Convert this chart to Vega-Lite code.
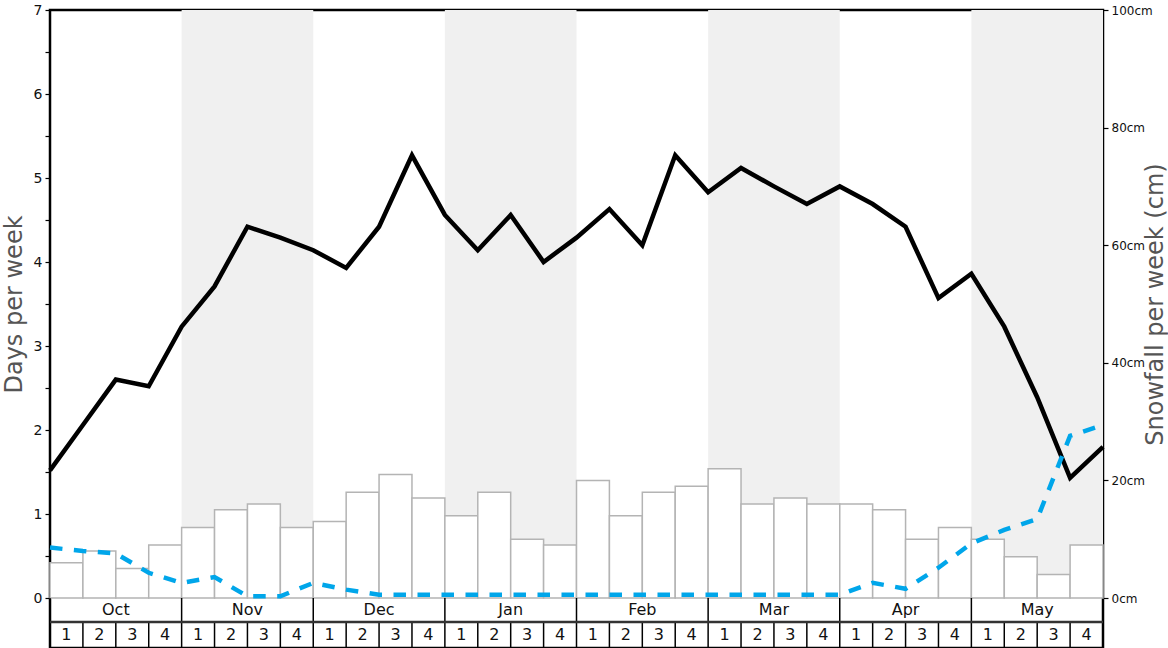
{
  "$schema": "https://vega.github.io/schema/vega-lite/v6.json",
  "width": 1053,
  "height": 638,
  "autosize": "none",
  "padding": {"left": 50, "top": 10, "right": 65, "bottom": 0},
  "background": "white",
  "config": {
    "font": "DejaVu Sans",
    "view": {"stroke": "#000000", "strokeWidth": 2.5},
    "axis": {"grid": false, "domain": false}
  },
  "datasets": {
    "months": [
      {"month": "Oct", "from": 0, "to": 4, "mid": 2, "shaded": false},
      {"month": "Nov", "from": 4, "to": 8, "mid": 6, "shaded": true},
      {"month": "Dec", "from": 8, "to": 12, "mid": 10, "shaded": false},
      {"month": "Jan", "from": 12, "to": 16, "mid": 14, "shaded": true},
      {"month": "Feb", "from": 16, "to": 20, "mid": 18, "shaded": false},
      {"month": "Mar", "from": 20, "to": 24, "mid": 22, "shaded": true},
      {"month": "Apr", "from": 24, "to": 28, "mid": 26, "shaded": false},
      {"month": "May", "from": 28, "to": 32, "mid": 30, "shaded": true}
    ],
    "weeks": [
      {"month": "Oct", "wk": 1, "from": 0, "to": 1, "mid": 0.5, "snow": 6},
      {"month": "Oct", "wk": 2, "from": 1, "to": 2, "mid": 1.5, "snow": 8},
      {"month": "Oct", "wk": 3, "from": 2, "to": 3, "mid": 2.5, "snow": 5},
      {"month": "Oct", "wk": 4, "from": 3, "to": 4, "mid": 3.5, "snow": 9},
      {"month": "Nov", "wk": 1, "from": 4, "to": 5, "mid": 4.5, "snow": 12},
      {"month": "Nov", "wk": 2, "from": 5, "to": 6, "mid": 5.5, "snow": 15},
      {"month": "Nov", "wk": 3, "from": 6, "to": 7, "mid": 6.5, "snow": 16},
      {"month": "Nov", "wk": 4, "from": 7, "to": 8, "mid": 7.5, "snow": 12},
      {"month": "Dec", "wk": 1, "from": 8, "to": 9, "mid": 8.5, "snow": 13},
      {"month": "Dec", "wk": 2, "from": 9, "to": 10, "mid": 9.5, "snow": 18},
      {"month": "Dec", "wk": 3, "from": 10, "to": 11, "mid": 10.5, "snow": 21},
      {"month": "Dec", "wk": 4, "from": 11, "to": 12, "mid": 11.5, "snow": 17},
      {"month": "Jan", "wk": 1, "from": 12, "to": 13, "mid": 12.5, "snow": 14},
      {"month": "Jan", "wk": 2, "from": 13, "to": 14, "mid": 13.5, "snow": 18},
      {"month": "Jan", "wk": 3, "from": 14, "to": 15, "mid": 14.5, "snow": 10},
      {"month": "Jan", "wk": 4, "from": 15, "to": 16, "mid": 15.5, "snow": 9},
      {"month": "Feb", "wk": 1, "from": 16, "to": 17, "mid": 16.5, "snow": 20},
      {"month": "Feb", "wk": 2, "from": 17, "to": 18, "mid": 17.5, "snow": 14},
      {"month": "Feb", "wk": 3, "from": 18, "to": 19, "mid": 18.5, "snow": 18},
      {"month": "Feb", "wk": 4, "from": 19, "to": 20, "mid": 19.5, "snow": 19},
      {"month": "Mar", "wk": 1, "from": 20, "to": 21, "mid": 20.5, "snow": 22},
      {"month": "Mar", "wk": 2, "from": 21, "to": 22, "mid": 21.5, "snow": 16},
      {"month": "Mar", "wk": 3, "from": 22, "to": 23, "mid": 22.5, "snow": 17},
      {"month": "Mar", "wk": 4, "from": 23, "to": 24, "mid": 23.5, "snow": 16},
      {"month": "Apr", "wk": 1, "from": 24, "to": 25, "mid": 24.5, "snow": 16},
      {"month": "Apr", "wk": 2, "from": 25, "to": 26, "mid": 25.5, "snow": 15},
      {"month": "Apr", "wk": 3, "from": 26, "to": 27, "mid": 26.5, "snow": 10},
      {"month": "Apr", "wk": 4, "from": 27, "to": 28, "mid": 27.5, "snow": 12},
      {"month": "May", "wk": 1, "from": 28, "to": 29, "mid": 28.5, "snow": 10},
      {"month": "May", "wk": 2, "from": 29, "to": 30, "mid": 29.5, "snow": 7},
      {"month": "May", "wk": 3, "from": 30, "to": 31, "mid": 30.5, "snow": 4},
      {"month": "May", "wk": 4, "from": 31, "to": 32, "mid": 31.5, "snow": 9}
    ],
    "lines": [
      {"t": 0, "black": 1.52, "blue": 0.6},
      {"t": 1, "black": 2.06, "blue": 0.56},
      {"t": 2, "black": 2.6, "blue": 0.53},
      {"t": 3, "black": 2.52, "blue": 0.3},
      {"t": 4, "black": 3.23, "blue": 0.18},
      {"t": 5, "black": 3.71, "blue": 0.25},
      {"t": 6, "black": 4.42, "blue": 0.02},
      {"t": 7, "black": 4.29, "blue": 0.02},
      {"t": 8, "black": 4.14, "blue": 0.18},
      {"t": 9, "black": 3.93, "blue": 0.1},
      {"t": 10, "black": 4.42, "blue": 0.04},
      {"t": 11, "black": 5.27, "blue": 0.04},
      {"t": 12, "black": 4.56, "blue": 0.04},
      {"t": 13, "black": 4.14, "blue": 0.04},
      {"t": 14, "black": 4.56, "blue": 0.04},
      {"t": 15, "black": 4.0, "blue": 0.04},
      {"t": 16, "black": 4.29, "blue": 0.04},
      {"t": 17, "black": 4.63, "blue": 0.04},
      {"t": 18, "black": 4.2, "blue": 0.04},
      {"t": 19, "black": 5.27, "blue": 0.04},
      {"t": 20, "black": 4.83, "blue": 0.04},
      {"t": 21, "black": 5.12, "blue": 0.04},
      {"t": 22, "black": 4.9, "blue": 0.04},
      {"t": 23, "black": 4.69, "blue": 0.04},
      {"t": 24, "black": 4.9, "blue": 0.04},
      {"t": 25, "black": 4.69, "blue": 0.18},
      {"t": 26, "black": 4.42, "blue": 0.11},
      {"t": 27, "black": 3.57, "blue": 0.36},
      {"t": 28, "black": 3.86, "blue": 0.65},
      {"t": 29, "black": 3.23, "blue": 0.81},
      {"t": 30, "black": 2.39, "blue": 0.94},
      {"t": 31, "black": 1.43, "blue": 1.93},
      {"t": 32, "black": 1.8, "blue": 2.06}
    ]
  },
  "layer": [
    {
      "data": {"name": "months"},
      "transform": [{"filter": "datum.shaded"}],
      "mark": {"type": "rect", "fill": "#f0f0f0", "stroke": null},
      "encoding": {
        "x": {"field": "from", "type": "quantitative", "scale": {"domain": [0, 32], "nice": false, "zero": false}, "axis": null},
        "x2": {"field": "to"},
        "y": {"datum": 0, "type": "quantitative", "scale": {"domain": [-8.5034, 100], "nice": false, "zero": false}, "axis": null},
        "y2": {"datum": 100}
      }
    },
    {
      "data": {"name": "weeks"},
      "mark": {"type": "rect", "fill": "white", "stroke": "#b4b4b4", "strokeWidth": 1.5},
      "encoding": {
        "x": {"field": "from", "type": "quantitative"},
        "x2": {"field": "to"},
        "y": {
          "field": "snow", "type": "quantitative",
          "scale": {"domain": [-8.5034, 100], "nice": false, "zero": false},
          "axis": {
            "orient": "right",
            "values": [0, 20, 40, 60, 80, 100],
            "labelExpr": "datum.value + 'cm'",
            "labelFontSize": 12,
            "labelColor": "#111111",
            "labelPadding": 3,
            "tickSize": 5,
            "tickColor": "#000000",
            "tickWidth": 1.2,
            "title": "Snowfall per week (cm)",
            "titleFontSize": 24,
            "titleFontWeight": "normal",
            "titleColor": "#555555",
            "titleAngle": 270,
            "titleBaseline": "middle",
            "titleAlign": "center",
            "titleX": 52,
            "titleY": 294
          }
        },
        "y2": {"datum": 0}
      }
    },
    {
      "data": {"name": "lines"},
      "mark": {"type": "line", "color": "#000000", "strokeWidth": 4.5, "strokeJoin": "miter"},
      "encoding": {
        "x": {"field": "t", "type": "quantitative"},
        "y": {
          "field": "black", "type": "quantitative",
          "scale": {"domain": [-0.595238, 7], "nice": false, "zero": false},
          "axis": {
            "orient": "left",
            "values": [0, 0.5, 1, 1.5, 2, 2.5, 3, 3.5, 4, 4.5, 5, 5.5, 6, 6.5, 7],
            "labelExpr": "datum.value % 1 == 0 ? '' + datum.value : ''",
            "labelFontSize": 14,
            "labelColor": "#111111",
            "labelPadding": 3,
            "tickSize": 5,
            "tickColor": "#000000",
            "tickWidth": 1.2,
            "title": "Days per week",
            "titleFontSize": 24,
            "titleFontWeight": "normal",
            "titleColor": "#555555",
            "titleAngle": 270,
            "titleBaseline": "middle",
            "titleAlign": "center",
            "titleX": -36,
            "titleY": 294
          }
        }
      }
    },
    {
      "data": {"name": "lines"},
      "mark": {"type": "line", "color": "#00a6ea", "strokeWidth": 4.5, "strokeDash": [12.5, 11.5], "strokeCap": "butt"},
      "encoding": {
        "x": {"field": "t", "type": "quantitative"},
        "y": {"field": "blue", "type": "quantitative", "scale": {"domain": [-0.595238, 7], "nice": false, "zero": false}, "axis": null}
      }
    },
    {
      "data": {"name": "months"},
      "mark": {"type": "rule", "color": "#000000", "strokeWidth": 1.5},
      "encoding": {
        "x": {"field": "from", "type": "quantitative"},
        "y": {"datum": -0.2857, "type": "quantitative", "scale": {"domain": [-0.595238, 7], "nice": false, "zero": false}, "axis": null},
        "y2": {"datum": 0}
      }
    },
    {
      "data": {"name": "weeks"},
      "mark": {"type": "rule", "color": "#000000", "strokeWidth": 1.5},
      "encoding": {
        "x": {"field": "from", "type": "quantitative"},
        "y": {"datum": -0.595238, "type": "quantitative", "scale": {"domain": [-0.595238, 7], "nice": false, "zero": false}, "axis": null},
        "y2": {"datum": -0.2857}
      }
    },
    {
      "data": {"values": [{}]},
      "mark": {"type": "rule", "color": "#333333", "strokeWidth": 2.5},
      "encoding": {
        "x": {"datum": 0, "type": "quantitative"},
        "x2": {"datum": 32},
        "y": {"datum": -0.2857, "type": "quantitative", "scale": {"domain": [-0.595238, 7], "nice": false, "zero": false}, "axis": null}
      }
    },
    {
      "data": {"name": "months"},
      "mark": {"type": "text", "fontSize": 16, "color": "#111111", "baseline": "middle", "align": "center"},
      "encoding": {
        "x": {"field": "mid", "type": "quantitative"},
        "y": {"datum": -0.1429, "type": "quantitative", "scale": {"domain": [-0.595238, 7], "nice": false, "zero": false}, "axis": null},
        "text": {"field": "month"}
      }
    },
    {
      "data": {"name": "weeks"},
      "mark": {"type": "text", "fontSize": 16, "color": "#111111", "baseline": "middle", "align": "center"},
      "encoding": {
        "x": {"field": "mid", "type": "quantitative"},
        "y": {"datum": -0.44, "type": "quantitative", "scale": {"domain": [-0.595238, 7], "nice": false, "zero": false}, "axis": null},
        "text": {"field": "wk"}
      }
    }
  ],
  "resolve": {"scale": {"y": "independent"}}
}
